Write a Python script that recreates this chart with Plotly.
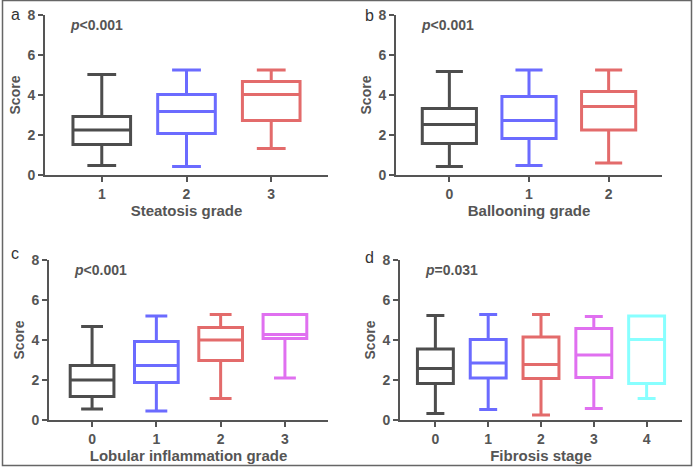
import plotly.graph_objects as go

# panel a: steatosis grade
steatosis_cats = ["1", "2", "3"]
steatosis_low = [0.47, 0.42, 1.33]
steatosis_q1 = [1.53, 2.08, 2.73]
steatosis_med = [2.25, 3.18, 4.03]
steatosis_q3 = [2.93, 4.03, 4.67]
steatosis_high = [5.03, 5.25, 5.25]

# panel b: ballooning grade
balloon_cats = ["0", "1", "2"]
balloon_low = [0.42, 0.47, 0.60]
balloon_q1 = [1.58, 1.83, 2.25]
balloon_med = [2.53, 2.72, 3.43]
balloon_q3 = [3.33, 3.93, 4.18]
balloon_high = [5.18, 5.25, 5.25]

# panel c: lobular inflammation grade
lobular_cats = ["0", "1", "2", "3"]
lobular_low = [0.55, 0.45, 1.07, 2.10]
lobular_q1 = [1.17, 1.88, 2.97, 4.08]
lobular_med = [2.00, 2.73, 4.00, 4.28]
lobular_q3 = [2.72, 3.93, 4.63, 5.27]
lobular_high = [4.67, 5.20, 5.27, 5.27]

# panel d: fibrosis stage
fibrosis_cats = ["0", "1", "2", "3", "4"]
fibrosis_low = [0.33, 0.53, 0.25, 0.58, 1.07]
fibrosis_q1 = [1.82, 2.10, 2.08, 2.12, 1.83]
fibrosis_med = [2.57, 2.85, 2.77, 3.25, 4.03]
fibrosis_q3 = [3.55, 4.02, 4.15, 4.58, 5.20]
fibrosis_high = [5.23, 5.27, 5.27, 5.17, 5.20]

colors = ["#4d4d4d", "#6b6bff", "#e36b6b", "#e070f0", "#88ffff"]
axis_color = "#555555"
W, H = 694, 468

panels = [
    dict(cats=steatosis_cats, low=steatosis_low, q1=steatosis_q1, med=steatosis_med,
         q3=steatosis_q3, high=steatosis_high, title="Steatosis grade", p="&lt;0.001",
         x0=45, x1=328, y0=15, y1=175, letter="a", lx=15, ly=15),
    dict(cats=balloon_cats, low=balloon_low, q1=balloon_q1, med=balloon_med,
         q3=balloon_q3, high=balloon_high, title="Ballooning grade", p="&lt;0.001",
         x0=396, x1=662, y0=15, y1=175, letter="b", lx=369, ly=16),
    dict(cats=lobular_cats, low=lobular_low, q1=lobular_q1, med=lobular_med,
         q3=lobular_q3, high=lobular_high, title="Lobular inflammation grade", p="&lt;0.001",
         x0=49, x1=328, y0=260, y1=420, letter="c", lx=15, ly=254),
    dict(cats=fibrosis_cats, low=fibrosis_low, q1=fibrosis_q1, med=fibrosis_med,
         q3=fibrosis_q3, high=fibrosis_high, title="Fibrosis stage", p="=0.031",
         x0=400, x1=682, y0=260, y1=420, letter="d", lx=369, ly=257),
]

fig = go.Figure()
annotations = []
layout = {}
for i, pn in enumerate(panels, start=1):
    xa = "x" if i == 1 else f"x{i}"
    ya = "y" if i == 1 else f"y{i}"
    for j, cat in enumerate(pn["cats"]):
        fig.add_trace(
            go.Box(
                x=[cat],
                q1=[pn["q1"][j]],
                median=[pn["med"][j]],
                q3=[pn["q3"][j]],
                lowerfence=[pn["low"][j]],
                upperfence=[pn["high"][j]],
                width=0.68,
                whiskerwidth=0.5,
                boxpoints=False,
                line=dict(color=colors[j], width=3),
                fillcolor="rgba(255,255,255,0)",
                hoverinfo="skip",
                showlegend=False,
                xaxis=xa,
                yaxis=ya,
            )
        )
    n = len(pn["cats"])
    layout[f"xaxis{'' if i == 1 else i}"] = dict(
        domain=[pn["x0"] / W, pn["x1"] / W],
        anchor=ya,
        type="category",
        range=[-0.67, n - 0.33],
        automargin=False,
        showline=True,
        linecolor=axis_color,
        linewidth=2,
        ticks="outside",
        ticklen=5,
        tickwidth=2,
        tickcolor=axis_color,
        showgrid=False,
        zeroline=False,
        tickfont=dict(family="Liberation Sans", size=14, color=axis_color, weight="bold"),
        title=dict(text=pn["title"], standoff=0,
                   font=dict(family="Liberation Sans", size=15, color=axis_color, weight="bold")),
    )
    layout[f"yaxis{'' if i == 1 else i}"] = dict(
        domain=[1 - pn["y1"] / H, 1 - pn["y0"] / H],
        anchor=xa,
        range=[0, 8],
        tickvals=[0, 2, 4, 6, 8],
        automargin=False,
        showline=True,
        linecolor=axis_color,
        linewidth=2,
        ticks="outside",
        ticklen=5,
        tickwidth=2,
        tickcolor=axis_color,
        showgrid=False,
        zeroline=False,
        tickfont=dict(family="Liberation Sans", size=14, color=axis_color, weight="bold"),
        title=dict(text="Score", standoff=4,
                   font=dict(family="Liberation Sans", size=14, color=axis_color, weight="bold")),
    )
    annotations.append(dict(
        text=f"<i>p</i>{pn['p']}", xref="paper", yref="paper",
        x=(pn["x0"] + 23) / W, y=1 - (pn["y0"] + 10) / H,
        xanchor="left", yanchor="middle", showarrow=False,
        font=dict(family="Liberation Sans", size=14, color=axis_color, weight="bold"),
    ))
    annotations.append(dict(
        text=pn["letter"], xref="paper", yref="paper",
        x=pn["lx"] / W, y=1 - pn["ly"] / H,
        xanchor="center", yanchor="middle", showarrow=False,
        font=dict(family="Liberation Sans", size=16, color="#333333"),
    ))

fig.update_layout(
    width=W,
    height=H,
    margin=dict(l=0, r=0, t=0, b=0),
    paper_bgcolor="white",
    plot_bgcolor="white",
    annotations=annotations,
    shapes=[dict(type="rect", xref="paper", yref="paper",
                 x0=2.5 / W, x1=691.5 / W, y0=1 - 465.5 / H, y1=1 - 0.5 / H,
                 line=dict(color="#666666", width=1.5))],
    **layout,
)

# drop the browser's default 8px body margin so the figure sits at the window corner
fig.write_html("out.html", config={"displayModeBar": False},
               post_script="document.body.style.margin='0';")
